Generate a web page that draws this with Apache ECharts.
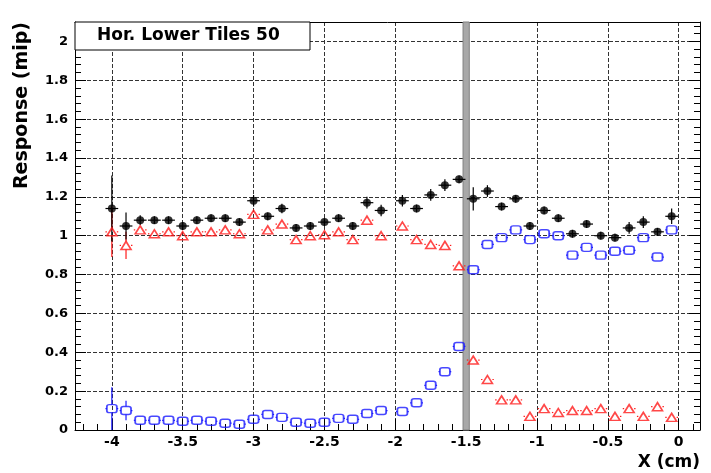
<!DOCTYPE html>
<html><head><meta charset="utf-8">
<script src="https://cdn.jsdelivr.net/npm/echarts@6/dist/echarts.min.js"></script>
<style>html,body{margin:0;padding:0;background:#fff}#c{width:711px;height:473px}</style>
</head><body><div id="c"></div>
<script>
// scan positions (cm)
const xPos = [-4.0,-3.9,-3.8,-3.7,-3.6,-3.5,-3.4,-3.3,-3.2,-3.1,-3.0,-2.9,-2.8,-2.7,-2.6,-2.5,-2.4,-2.3,-2.2,-2.1,
  -1.95,-1.85,-1.75,-1.65,-1.55,-1.45,-1.35,-1.25,-1.15,-1.05,-0.95,-0.85,-0.75,-0.65,-0.55,-0.45,-0.35,-0.25,-0.15,-0.05];
// total response (black filled circles)
const blackY = [1.14,1.05,1.08,1.08,1.08,1.05,1.08,1.09,1.09,1.07,1.18,1.10,1.14,1.04,1.05,1.07,1.09,1.05,1.17,1.13,
  1.18,1.14,1.21,1.26,1.29,1.19,1.23,1.15,1.19,1.05,1.13,1.09,1.01,1.06,1.00,0.99,1.04,1.07,1.02,1.10];
const blackErr = [0.17,0.07,0.025,0.02,0.02,0.02,0.02,0.02,0.02,0.02,0.03,0.02,0.025,0.02,0.02,0.02,0.02,0.02,0.03,0.03,
  0.03,0.02,0.03,0.03,0.02,0.06,0.03,0.02,0.02,0.02,0.02,0.02,0.02,0.02,0.02,0.02,0.03,0.03,0.02,0.04];
// red open triangles
const redY = [1.02,0.95,1.03,1.01,1.02,1.00,1.02,1.02,1.03,1.01,1.11,1.03,1.06,0.98,1.00,1.005,1.02,0.98,1.08,1.00,
  1.05,0.98,0.955,0.95,0.845,0.36,0.26,0.155,0.155,0.07,0.11,0.09,0.10,0.10,0.11,0.07,0.11,0.07,0.12,0.065];
const redErr = [0.13,0.07,0.015,0.015,0.015,0.015,0.015,0.015,0.015,0.015,0.015,0.015,0.015,0.015,0.015,0.015,0.015,0.015,0.015,0.015,
  0.015,0.015,0.015,0.015,0.015,0.015,0.015,0.015,0.015,0.015,0.015,0.015,0.015,0.015,0.015,0.015,0.015,0.015,0.015,0.015];
// blue open squares
const blueY = [0.11,0.10,0.05,0.05,0.05,0.045,0.05,0.045,0.035,0.03,0.055,0.08,0.065,0.04,0.035,0.04,0.06,0.055,0.085,0.10,
  0.095,0.14,0.23,0.30,0.43,0.825,0.955,0.99,1.03,0.98,1.01,1.00,0.90,0.94,0.90,0.92,0.925,0.99,0.89,1.03];
const blueErr = [0.11,0.05,0.01,0.01,0.01,0.01,0.01,0.01,0.01,0.01,0.01,0.01,0.01,0.01,0.01,0.01,0.01,0.01,0.01,0.01,
  0.01,0.01,0.01,0.01,0.01,0.01,0.01,0.01,0.01,0.01,0.01,0.01,0.01,0.01,0.01,0.01,0.01,0.01,0.01,0.01];
// axis ticks
const xTickLabels = [-4,-3.5,-3,-2.5,-2,-1.5,-1,-0.5,0];
const yTickLabels = [0,0.2,0.4,0.6,0.8,1,1.2,1.4,1.6,1.8,2];
const bandCenter = -1.5;
const paveText = 'Hor. Lower Tiles 50';

const X_MIN = -4.26, X_MAX = 0.15, Y_MIN = 0, Y_MAX = 2.1;
const xMinor = []; for (let v = -42; v <= 1; v++) xMinor.push(+(v / 10).toFixed(2));
const yMinor = []; for (let v = 0; v <= 52; v++) yMinor.push(+(v * 0.04).toFixed(2));

const FONT = 'DejaVu Sans';
const chart = echarts.init(document.getElementById('c'), null, {renderer: 'canvas'});

function errSeries(name, ys, errs, ex, color, gapY, gapX) {
  return {
    type: 'custom', name: name, xAxisIndex: 0, yAxisIndex: 0, z: 3, clip: true, silent: true,
    data: xPos.map((x, i) => [x, ys[i], errs[i]]),
    encode: {x: 0, y: 1},
    renderItem: function (params, api) {
      const x = api.value(0), y = api.value(1), e = api.value(2);
      const c = api.coord([x, y]);
      const t = api.coord([x, y + e]), b = api.coord([x, y - e]);
      const l = api.coord([x - ex, y]), r = api.coord([x + ex, y]);
      const st = {stroke: color, lineWidth: 1.2};
      const ch = [];
      if (t[1] < c[1] - gapY) ch.push({type: 'line', shape: {x1: c[0], y1: t[1], x2: c[0], y2: c[1] - gapY}, style: st});
      if (b[1] > c[1] + gapY) ch.push({type: 'line', shape: {x1: c[0], y1: c[1] + gapY, x2: c[0], y2: b[1]}, style: st});
      if (l[0] < c[0] - gapX) ch.push({type: 'line', shape: {x1: l[0], y1: c[1], x2: c[0] - gapX, y2: c[1]}, style: st});
      if (r[0] > c[0] + gapX) ch.push({type: 'line', shape: {x1: c[0] + gapX, y1: c[1], x2: r[0], y2: c[1]}, style: st});
      return {type: 'group', children: ch};
    }
  };
}

const minorX = (pos) => ({type: 'value', min: X_MIN, max: X_MAX, position: pos,
  axisLine: {show: false, onZero: false},
  axisLabel: {show: false}, splitLine: {show: false},
  axisTick: {show: true, inside: true, length: 6, customValues: xMinor, lineStyle: {color: '#000'}}});
const minorY = (pos) => ({type: 'value', min: Y_MIN, max: Y_MAX, position: pos,
  axisLine: {show: false, onZero: false},
  axisLabel: {show: false}, splitLine: {show: false},
  axisTick: {show: true, inside: true, length: 6, customValues: yMinor, lineStyle: {color: '#000'}}});

const option = {
  animation: false,
  backgroundColor: '#fff',
  grid: {left: 75, top: 22, right: 11, bottom: 43, containLabel: false},
  xAxis: [
    {type: 'value', min: X_MIN, max: X_MAX, position: 'bottom',
      axisLine: {show: true, onZero: false, lineStyle: {color: '#000', width: 1}},
      axisTick: {show: true, inside: true, length: 11, customValues: xTickLabels, lineStyle: {color: '#000'}},
      axisLabel: {customValues: xTickLabels, formatter: v => String(v), color: '#000', fontFamily: FONT,
        fontWeight: 'bold', fontSize: 14, margin: 5},
      splitLine: {show: true, lineStyle: {color: '#333', width: 1, type: [4, 2]}}},
    minorX('bottom'),
    {type: 'value', min: X_MIN, max: X_MAX, position: 'top',
      axisLine: {show: true, onZero: false, lineStyle: {color: '#000', width: 1}},
      axisTick: {show: false}, axisLabel: {show: false}, splitLine: {show: false}}
  ],
  yAxis: [
    {type: 'value', min: Y_MIN, max: Y_MAX, position: 'left',
      axisLine: {show: true, onZero: false, lineStyle: {color: '#000', width: 1}},
      axisTick: {show: true, inside: true, length: 11, customValues: yTickLabels, lineStyle: {color: '#000'}},
      axisLabel: {customValues: yTickLabels, formatter: v => String(v), color: '#000', fontFamily: FONT,
        fontWeight: 'bold', fontSize: 13, margin: 7},
      splitLine: {show: true, lineStyle: {color: '#333', width: 1, type: [4, 2]}}},
    minorY('left'),
    {type: 'value', min: Y_MIN, max: Y_MAX, position: 'right',
      axisLine: {show: true, onZero: false, lineStyle: {color: '#000', width: 1}},
      axisTick: {show: true, inside: true, length: 11, customValues: yTickLabels, lineStyle: {color: '#000'}},
      axisLabel: {show: false}, splitLine: {show: false}},
    minorY('right')
  ],
  series: [
    {type: 'scatter', name: 'band', xAxisIndex: 0, yAxisIndex: 0, data: [], z: 2,
      markArea: {silent: true, itemStyle: {color: '#a8a8a8', borderColor: '#808080', borderWidth: 1},
        data: [[{xAxis: bandCenter - 0.022, yAxis: Y_MIN}, {xAxis: bandCenter + 0.022, yAxis: Y_MAX}]]}},
    errSeries('blueErr', blueY, blueErr, 0.045, '#1a1aff', 4, 5),
    errSeries('redErr', redY, redErr, 0.045, '#ff1a1a', 4, 5),
    errSeries('blackErr', blackY, blackErr, 0.045, '#000', 0, 0),
    {type: 'scatter', name: 'blue', xAxisIndex: 0, yAxisIndex: 0, z: 4,
      data: xPos.map((x, i) => [x, blueY[i]]), symbol: 'roundRect', symbolSize: [10, 8],
      itemStyle: {color: 'rgba(255,255,255,0)', borderColor: '#1a1aff', borderWidth: 1.6}},
    {type: 'scatter', name: 'red', xAxisIndex: 0, yAxisIndex: 0, z: 4,
      data: xPos.map((x, i) => [x, redY[i]]), symbol: 'triangle', symbolSize: [10, 8],
      itemStyle: {color: 'rgba(255,255,255,0)', borderColor: '#ff1a1a', borderWidth: 1.6}},
    {type: 'scatter', name: 'black', xAxisIndex: 0, yAxisIndex: 0, z: 5,
      data: xPos.map((x, i) => [x, blackY[i]]), symbol: 'circle', symbolSize: 8,
      itemStyle: {color: '#000'}}
  ],
  graphic: [
    {type: 'rect', z: 100, shape: {x: 75, y: 22, width: 235, height: 28},
      style: {fill: '#fff', stroke: '#000', lineWidth: 1}},
    {type: 'text', z: 101, x: 97, y: 36,
      style: {text: paveText, fill: '#000', font: 'bold 17px "DejaVu Sans"', verticalAlign: 'middle'}},
    {type: 'text', z: 101, x: 22, y: 22, rotation: Math.PI / 2,
      style: {text: 'Response (mip)', fill: '#000', font: 'bold 19px "DejaVu Sans"', align: 'right', verticalAlign: 'middle'}},
    {type: 'text', z: 101, x: 700, y: 463,
      style: {text: 'X (cm)', fill: '#000', font: 'bold 17px "DejaVu Sans"', align: 'right', verticalAlign: 'middle'}}
  ]
};
chart.setOption(option);
</script>
</body></html>
